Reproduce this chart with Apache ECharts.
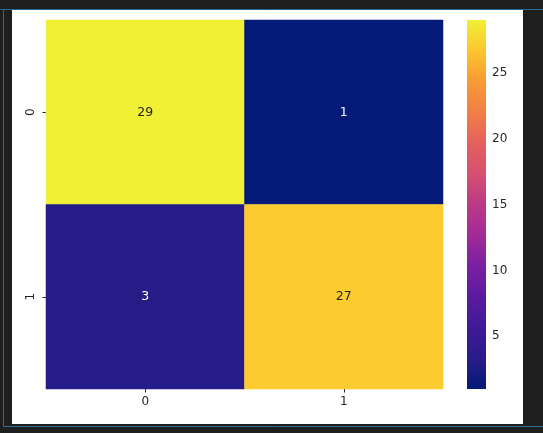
<!DOCTYPE html>
<html>
<head>
<meta charset="utf-8">
<style>html,body{margin:0;padding:0;background:#1e1e1e;}#c{width:543px;height:433px;}</style>
<script src="https://cdn.jsdelivr.net/npm/echarts@6/dist/echarts.min.js"></script>
</head>
<body>
<div id="c"></div>
<script>
const xLabels = ['0', '1'];
const yLabels = ['0', '1'];
const matrix = [[29, 1], [3, 27]];
const colorbarTicks = [5, 10, 15, 20, 25];
const vMin = 1, vMax = 29;
const palette = ['#041a78', '#2a1c8a', '#3f1a98', '#5c1aa0', '#7a1fa2', '#a22a98', '#bb3a85', '#d65070', '#e4605e', '#f27e45', '#f89a35', '#fdc52e', '#f0f035'];

const data = [];
matrix.forEach((row, r) => row.forEach((v, c) => data.push({ value: [c, r, v], label: { color: v > 15 ? '#262626' : '#ffffff' } })));

const chart = echarts.init(document.getElementById('c'));
const font = 'DejaVu Sans';
const cb = { x: 467, y: 20, w: 19, h: 369 };
chart.setOption({
  backgroundColor: '#1e1e1e',
  animation: false,
  textStyle: { fontFamily: font },
  graphic: [
    { type: 'rect', shape: { x: 12, y: 10, width: 511, height: 414 }, style: { fill: '#ffffff' }, z: -10 },
    { type: 'line', shape: { x1: 0, y1: 9.5, x2: 543, y2: 9.5 }, style: { stroke: '#2b6b96', lineWidth: 1 }, z: -9 },
    { type: 'line', shape: { x1: 3.5, y1: 9.5, x2: 3.5, y2: 426.5 }, style: { stroke: '#2b6b96', lineWidth: 1 }, z: -9 },
    { type: 'line', shape: { x1: 3.5, y1: 426.5, x2: 543, y2: 426.5 }, style: { stroke: '#2b6b96', lineWidth: 1 }, z: -9 },
    { type: 'rect', shape: { x: cb.x, y: cb.y, width: cb.w, height: cb.h }, z: 5,
      style: { fill: new echarts.graphic.LinearGradient(0, 1, 0, 0,
        palette.map((c, i) => ({ offset: i / (palette.length - 1), color: c }))) } }
  ],
  grid: [
    { left: 46, top: 20, width: 397, height: 369 },
    { left: cb.x, top: cb.y, width: cb.w, height: cb.h }
  ],
  xAxis: [
    { type: 'category', gridIndex: 0, data: xLabels, axisLine: { show: false },
      axisTick: { show: true, alignWithLabel: true, length: 3.5, lineStyle: { color: '#262626' } },
      axisLabel: { color: '#262626', fontSize: 12, margin: 7, fontFamily: font }, splitLine: { show: false } },
    { type: 'value', gridIndex: 1, show: false }
  ],
  yAxis: [
    { type: 'category', gridIndex: 0, data: yLabels, inverse: true, axisLine: { show: false },
      axisTick: { show: true, alignWithLabel: true, length: 3.5, lineStyle: { color: '#262626' } },
      axisLabel: { color: '#262626', fontSize: 12, rotate: 90, margin: 9, fontFamily: font }, splitLine: { show: false } },
    { type: 'value', gridIndex: 1, position: 'right', min: vMin, max: vMax,
      axisLine: { show: false }, splitLine: { show: false },
      axisTick: { show: true, inside: false, length: 3.5, lineStyle: { color: '#262626' }, customValues: colorbarTicks },
      axisLabel: { color: '#262626', fontSize: 12, margin: 6, fontFamily: font, customValues: colorbarTicks } }
  ],
  visualMap: {
    type: 'continuous', min: vMin, max: vMax, seriesIndex: 0, show: false,
    inRange: { color: palette }
  },
  series: [{
    type: 'heatmap', xAxisIndex: 0, yAxisIndex: 0, data: data,
    label: { show: true, fontSize: 12.5, fontFamily: font, formatter: p => String(p.value[2]) },
    itemStyle: { borderWidth: 0 },
    emphasis: { disabled: true }
  }]
});
</script>
</body>
</html>
